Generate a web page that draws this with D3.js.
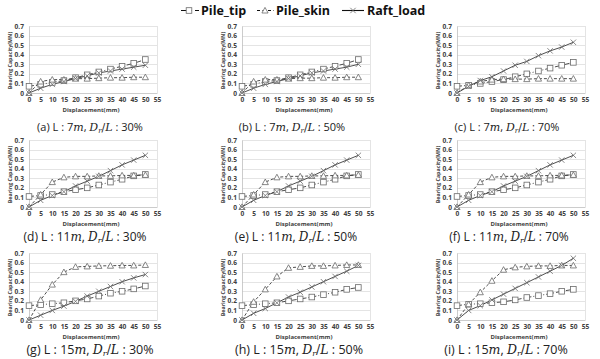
<!DOCTYPE html>
<html><head><meta charset="utf-8">
<script src="https://cdn.jsdelivr.net/npm/d3@7"></script>
<style>
html,body{margin:0;padding:0;background:#fff;}
svg{display:block;}
</style></head>
<body>
<svg id="chart" width="600" height="359"></svg>
<script>
// ---------- DATA ----------
const displacement = [0, 5, 10, 15, 20, 25, 30, 35, 40, 45, 50];
const xTicks = [0, 5, 10, 15, 20, 25, 30, 35, 40, 45, 50, 55];
const yTicks = [0, 0.1, 0.2, 0.3, 0.4, 0.5, 0.6, 0.7];
const yTickLabels = ["0", "0.1", "0.2", "0.3", "0.4", "0.5", "0.6", "0.7"];
const seriesNames = ["Pile_tip", "Pile_skin", "Raft_load"];

const panelLetters = ["a", "b", "c", "d", "e", "f", "g", "h", "i"];
const panelLength = ["7", "7", "7", "11", "11", "11", "15", "15", "15"];
const panelRatio = ["30%", "50%", "70%", "30%", "50%", "70%", "30%", "50%", "70%"];

const tipA  = [0.07, 0.09, 0.11, 0.13, 0.16, 0.19, 0.22, 0.25, 0.28, 0.31, 0.35];
const skinA = [0.00, 0.12, 0.14, 0.14, 0.15, 0.15, 0.155, 0.16, 0.16, 0.165, 0.165];
const raftA = [0.00, 0.05, 0.09, 0.12, 0.15, 0.18, 0.21, 0.23, 0.25, 0.27, 0.29];

const tipB  = [0.07, 0.09, 0.12, 0.13, 0.16, 0.19, 0.22, 0.25, 0.28, 0.31, 0.35];
const skinB = [0.00, 0.12, 0.14, 0.14, 0.15, 0.155, 0.155, 0.16, 0.16, 0.165, 0.165];
const raftB = [0.00, 0.05, 0.09, 0.12, 0.15, 0.18, 0.21, 0.23, 0.25, 0.27, 0.30];

const tipC  = [0.07, 0.08, 0.10, 0.12, 0.14, 0.17, 0.20, 0.23, 0.26, 0.29, 0.32];
const skinC = [0.00, 0.08, 0.12, 0.14, 0.145, 0.145, 0.145, 0.15, 0.15, 0.15, 0.15];
const raftC = [0.00, 0.07, 0.13, 0.17, 0.23, 0.29, 0.33, 0.39, 0.44, 0.48, 0.53];

const tipD  = [0.11, 0.12, 0.13, 0.16, 0.18, 0.20, 0.23, 0.26, 0.29, 0.325, 0.34];
const skinD = [0.00, 0.13, 0.26, 0.31, 0.32, 0.32, 0.325, 0.325, 0.33, 0.33, 0.335];
const raftD = [0.00, 0.07, 0.12, 0.16, 0.22, 0.27, 0.32, 0.38, 0.44, 0.49, 0.54];

const tipE  = [0.11, 0.12, 0.13, 0.16, 0.18, 0.20, 0.23, 0.26, 0.29, 0.325, 0.34];
const skinE = [0.00, 0.13, 0.26, 0.31, 0.32, 0.32, 0.325, 0.325, 0.33, 0.33, 0.335];
const raftE = [0.00, 0.07, 0.12, 0.16, 0.22, 0.27, 0.32, 0.38, 0.44, 0.49, 0.54];

const tipF  = [0.11, 0.12, 0.13, 0.16, 0.18, 0.20, 0.23, 0.26, 0.29, 0.325, 0.34];
const skinF = [0.00, 0.13, 0.26, 0.31, 0.32, 0.32, 0.325, 0.325, 0.33, 0.33, 0.335];
const raftF = [0.00, 0.07, 0.12, 0.16, 0.22, 0.27, 0.32, 0.38, 0.44, 0.49, 0.54];

const tipG  = [0.15, 0.16, 0.17, 0.18, 0.20, 0.22, 0.25, 0.28, 0.30, 0.325, 0.355];
const skinG = [0.00, 0.21, 0.37, 0.50, 0.555, 0.56, 0.565, 0.567, 0.57, 0.57, 0.575];
const raftG = [0.00, 0.05, 0.10, 0.145, 0.195, 0.25, 0.30, 0.35, 0.40, 0.44, 0.475];

const tipH  = [0.15, 0.16, 0.17, 0.18, 0.20, 0.22, 0.24, 0.265, 0.29, 0.32, 0.34];
const skinH = [0.00, 0.19, 0.32, 0.455, 0.545, 0.555, 0.565, 0.565, 0.57, 0.575, 0.575];
const raftH = [0.00, 0.07, 0.12, 0.18, 0.24, 0.29, 0.345, 0.40, 0.455, 0.51, 0.57];

const tipI  = [0.15, 0.165, 0.17, 0.18, 0.19, 0.21, 0.235, 0.255, 0.275, 0.30, 0.32];
const skinI = [0.00, 0.165, 0.29, 0.41, 0.525, 0.55, 0.56, 0.565, 0.565, 0.57, 0.57];
const raftI = [0.00, 0.10, 0.15, 0.21, 0.27, 0.33, 0.39, 0.45, 0.51, 0.57, 0.645];

const panelTip  = [tipA, tipB, tipC, tipD, tipE, tipF, tipG, tipH, tipI];
const panelSkin = [skinA, skinB, skinC, skinD, skinE, skinF, skinG, skinH, skinI];
const panelRaft = [raftA, raftB, raftC, raftD, raftE, raftF, raftG, raftH, raftI];

// ---------- LAYOUT ----------
const colLeft = [29, 242, 457];
const rowTop = [26, 140, 253];
const plotW = 128, plotH = 67;
const captionCx = [90, 292, 507, 85, 296, 509, 90, 299, 506];
const captionY = [131, 241, 354];
const captionSize = [11, 12, 12.5];

const svg = d3.select("#chart");
const lineColor = "#3a3a3a";
const markColor = "#6a6a6a";
const sansFont = "'Open Sans', 'Noto Sans', sans-serif";
const mathFont = "'DejaVu Serif', 'Liberation Serif', serif";

const styles = {
  Pile_tip:  {dash: "5,2,1,2", marker: "square"},
  Pile_skin: {dash: "3,2", marker: "triangle"},
  Raft_load: {dash: null, marker: "cross"}
};

function drawMarker(g, type, x, y) {
  if (type === "square") {
    g.append("rect").attr("x", x - 2.8).attr("y", y - 2.8).attr("width", 5.6).attr("height", 5.6)
      .attr("fill", "#fff").attr("stroke", markColor).attr("stroke-width", 0.8);
  } else if (type === "triangle") {
    g.append("path").attr("d", `M${x},${y - 3.1}L${x + 3.1},${y + 2.5}L${x - 3.1},${y + 2.5}Z`)
      .attr("fill", "#fff").attr("stroke", markColor).attr("stroke-width", 0.8);
  } else {
    g.append("path").attr("d", `M${x - 2.7},${y - 2.7}L${x + 2.7},${y + 2.7}M${x - 2.7},${y + 2.7}L${x + 2.7},${y - 2.7}`)
      .attr("stroke", markColor).attr("stroke-width", 0.8).attr("fill", "none");
  }
}

panelLetters.forEach((letter, i) => {
  const col = i % 3, row = Math.floor(i / 3);
  const left = colLeft[col], top = rowTop[row];
  const x = d3.scaleLinear().domain([0, 55]).range([0, plotW]);
  const y = d3.scaleLinear().domain([0, 0.7]).range([plotH, 0]);
  const g = svg.append("g").attr("transform", `translate(${left},${top})`);

  // gridlines
  g.selectAll("line.grid").data(yTicks.slice(1)).enter().append("line")
    .attr("x1", 0).attr("x2", plotW)
    .attr("y1", d => Math.round(y(d)) + 0.5).attr("y2", d => Math.round(y(d)) + 0.5)
    .attr("stroke", "#d9d9d9").attr("stroke-width", 0.7);
  g.append("line").attr("x1", plotW + 0.5).attr("x2", plotW + 0.5).attr("y1", 0).attr("y2", plotH)
    .attr("stroke", "#d9d9d9").attr("stroke-width", 0.7);

  // axes
  const xAxis = d3.axisBottom(x).tickValues(xTicks).tickSize(0).tickPadding(4);
  const yAxis = d3.axisLeft(y).tickValues(yTicks).tickSize(0).tickPadding(5)
    .tickFormat((d, k) => yTickLabels[k]);
  const gx = g.append("g").attr("transform", `translate(0,${plotH})`).call(xAxis);
  const gy = g.append("g").call(yAxis);
  [gx, gy].forEach(a => {
    a.select(".domain").attr("stroke", "#bfbfbf").attr("stroke-width", 0.8);
    a.selectAll("text").attr("font-family", sansFont).attr("font-size", 6.6)
      .attr("font-weight", 700).attr("fill", "#404040");
  });

  // axis titles
  g.append("text").attr("x", plotW / 2 - 2).attr("y", plotH + 18.5).attr("text-anchor", "middle")
    .attr("font-family", sansFont).attr("font-size", 6).attr("font-weight", 700).attr("fill", "#404040")
    .text("Displacement(mm)");
  g.append("text").attr("transform", `translate(-17.5,${plotH / 2 + 1}) rotate(-90)`).attr("text-anchor", "middle")
    .attr("font-family", sansFont).attr("font-size", 5.3).attr("font-weight", 700).attr("fill", "#404040")
    .text("Bearing Capacity(MN)");

  // series
  const seriesData = [panelTip[i], panelSkin[i], panelRaft[i]];
  seriesNames.forEach((name, s) => {
    const pts = displacement.map((d, k) => [d, seriesData[s][k]]);
    const line = d3.line().x(p => x(p[0])).y(p => y(p[1]));
    const path = g.append("path").datum(pts).attr("d", line).attr("fill", "none")
      .attr("stroke", lineColor).attr("stroke-width", 0.9);
    if (styles[name].dash) path.attr("stroke-dasharray", styles[name].dash);
  });
  seriesNames.forEach((name, s) => {
    displacement.forEach((d, k) => drawMarker(g, styles[name].marker, x(d), y(seriesData[s][k])));
  });

  // caption
  const fs = captionSize[row];
  const cap = svg.append("text").attr("x", captionCx[i]).attr("y", captionY[row])
    .attr("text-anchor", "middle").attr("font-family", sansFont).attr("font-size", fs).attr("fill", "#222");
  cap.append("tspan").text(`(${letter}) L : ${panelLength[i]}`);
  cap.append("tspan").attr("font-family", mathFont).attr("font-style", "italic").text("m");
  cap.append("tspan").text(", ");
  cap.append("tspan").attr("font-family", mathFont).attr("font-style", "italic").text("D");
  cap.append("tspan").attr("font-family", mathFont).attr("font-style", "italic").attr("font-size", fs * 0.64).attr("dy", 2).text("r");
  cap.append("tspan").attr("font-family", mathFont).attr("dy", -2).text("/");
  cap.append("tspan").attr("font-family", mathFont).attr("font-style", "italic").text("L");
  cap.append("tspan").text(` : ${panelRatio[i]}`);
});

// ---------- LEGEND ----------
const legendItems = [
  {name: "Pile_tip", x1: 181, x2: 199, mx: 189, tx: 201},
  {name: "Pile_skin", x1: 257, x2: 274, mx: 265, tx: 276},
  {name: "Raft_load", x1: 342, x2: 364, mx: 353, tx: 367}
];
const lg = svg.append("g");
legendItems.forEach(it => {
  const l = lg.append("line").attr("x1", it.x1).attr("x2", it.x2).attr("y1", 10.5).attr("y2", 10.5)
    .attr("stroke", "#111").attr("stroke-width", 1.1);
  if (styles[it.name].dash) l.attr("stroke-dasharray", it.name === "Pile_tip" ? "6,3,2,3" : "3,2.5");
  drawMarker(lg, styles[it.name].marker, it.mx, 10.5);
  lg.append("text").attr("x", it.tx).attr("y", 15).attr("font-family", sansFont)
    .attr("font-size", 12.5).attr("font-weight", 700).attr("fill", "#111").text(it.name);
});
</script>
</body></html>
